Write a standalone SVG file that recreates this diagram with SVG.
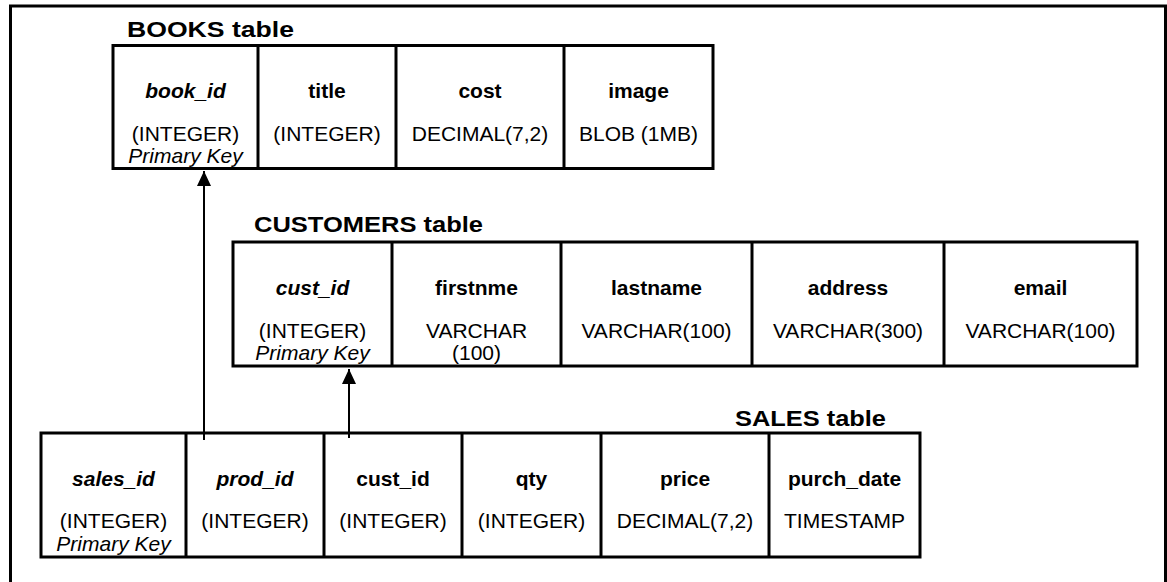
<svg xmlns="http://www.w3.org/2000/svg" width="1167" height="582" viewBox="0 0 1167 582">
<style>
text{font-family:"Liberation Sans",Arial,sans-serif;fill:#000;text-anchor:middle;font-size:21px}
.title{font-size:22px;font-weight:bold;text-anchor:start}
.nm{font-weight:bold}
.pk{font-weight:bold;font-style:italic}
.it{font-style:italic}
.box{fill:#fff;stroke:#000;stroke-width:3}
.div{stroke:#000;stroke-width:3}
.conn{stroke:#000;stroke-width:2;fill:none}
</style>
<defs>
<marker id="arr" markerUnits="userSpaceOnUse" markerWidth="16" markerHeight="16" viewBox="0 0 16 16" refX="15" refY="8" orient="auto">
<path d="M0,1 L15,8 L0,15 Z" fill="#000"/>
</marker>
</defs>
<rect x="0" y="0" width="1167" height="582" fill="#fff"/>
<rect x="10.5" y="6" width="1155" height="600" fill="none" stroke="#000" stroke-width="3"/>

<g id="books">
<text class="title" x="127" y="37" textLength="167" lengthAdjust="spacingAndGlyphs">BOOKS table</text>
<rect class="box" x="113" y="45.5" width="600" height="123"/>
<line class="div" x1="258" y1="45.5" x2="258" y2="168.5"/>
<line class="div" x1="396" y1="45.5" x2="396" y2="168.5"/>
<line class="div" x1="564" y1="45.5" x2="564" y2="168.5"/>
<text class="pk" x="185.5" y="98">book_id</text>
<text x="185.5" y="141">(INTEGER)</text>
<text class="it" x="185.5" y="163">Primary Key</text>
<text class="nm" x="327" y="98">title</text>
<text x="327" y="141">(INTEGER)</text>
<text class="nm" x="480" y="98">cost</text>
<text x="480" y="141">DECIMAL(7,2)</text>
<text class="nm" x="638.5" y="98">image</text>
<text x="638.5" y="141">BLOB (1MB)</text>
</g>

<g id="customers">
<text class="title" x="254" y="232" textLength="229" lengthAdjust="spacingAndGlyphs">CUSTOMERS table</text>
<rect class="box" x="233" y="242" width="904" height="124"/>
<line class="div" x1="392" y1="242" x2="392" y2="366"/>
<line class="div" x1="561" y1="242" x2="561" y2="366"/>
<line class="div" x1="752" y1="242" x2="752" y2="366"/>
<line class="div" x1="944" y1="242" x2="944" y2="366"/>
<text class="pk" x="312.5" y="295">cust_id</text>
<text x="312.5" y="338">(INTEGER)</text>
<text class="it" x="312.5" y="360">Primary Key</text>
<text class="nm" x="476.5" y="295">firstnme</text>
<text x="476.5" y="338">VARCHAR</text>
<text x="476.5" y="360">(100)</text>
<text class="nm" x="656.5" y="295">lastname</text>
<text x="656.5" y="338">VARCHAR(100)</text>
<text class="nm" x="848" y="295">address</text>
<text x="848" y="338">VARCHAR(300)</text>
<text class="nm" x="1040.5" y="295">email</text>
<text x="1040.5" y="338">VARCHAR(100)</text>
</g>

<g id="sales">
<text class="title" x="735" y="426" textLength="151" lengthAdjust="spacingAndGlyphs">SALES table</text>
<rect class="box" x="41" y="433" width="879" height="124"/>
<line class="div" x1="186" y1="433" x2="186" y2="557"/>
<line class="div" x1="324" y1="433" x2="324" y2="557"/>
<line class="div" x1="462" y1="433" x2="462" y2="557"/>
<line class="div" x1="601" y1="433" x2="601" y2="557"/>
<line class="div" x1="769" y1="433" x2="769" y2="557"/>
<text class="pk" x="113.5" y="486">sales_id</text>
<text x="113.5" y="528">(INTEGER)</text>
<text class="it" x="113.5" y="551">Primary Key</text>
<text class="pk" x="255" y="486">prod_id</text>
<text x="255" y="528">(INTEGER)</text>
<text class="nm" x="393" y="486">cust_id</text>
<text x="393" y="528">(INTEGER)</text>
<text class="nm" x="531.5" y="486">qty</text>
<text x="531.5" y="528">(INTEGER)</text>
<text class="nm" x="685" y="486">price</text>
<text x="685" y="528">DECIMAL(7,2)</text>
<text class="nm" x="844.5" y="486">purch_date</text>
<text x="844.5" y="528">TIMESTAMP</text>
</g>

<g id="connectors">
<line class="conn" x1="204" y1="440" x2="204" y2="171" marker-end="url(#arr)"/>
<line class="conn" x1="349" y1="438" x2="349" y2="369" marker-end="url(#arr)"/>
</g>
</svg>
